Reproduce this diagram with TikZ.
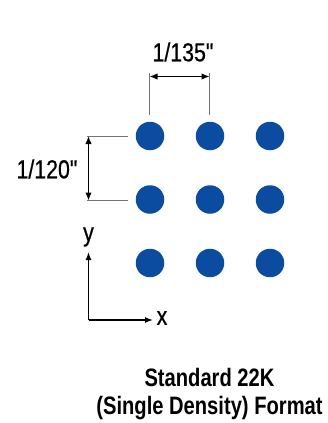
\documentclass[tikz,border=0pt]{standalone}
\usepackage{fontspec}
\setmainfont{Liberation Sans}
\newfontfamily\cond[FakeStretch=0.82,FakeBold=0.6]{Liberation Sans}
\newfontfamily\condb[FakeStretch=0.8]{Liberation Sans}
\usetikzlibrary{arrows.meta}
\definecolor{dotblue}{RGB}{12,76,160}
\begin{document}
\begin{tikzpicture}[x=1pt,y=-1pt,
  dot/.style={circle,fill=dotblue,minimum size=28.5pt,inner sep=0pt},
  ext/.style={draw=black!55,line width=0.8pt},
  dim/.style={draw=black,line width=1.4pt,{Latex[length=8pt,width=6.5pt]}-{Latex[length=8pt,width=6.5pt]}},
  ax/.style={draw=black,line width=1.4pt,-{Latex[length=8pt,width=6pt]}},
  lbl/.style={font=\cond\fontsize{26}{28}\selectfont,inner sep=0pt},
  ttl/.style={font=\condb\bfseries\fontsize{25.2}{28.5}\selectfont,inner sep=0pt,align=center}]
\useasboundingbox (0,0) rectangle (328,423);
% dots
\foreach \c/\x in {1/150,2/210,3/270}{
  \foreach \r/\y in {1/136,2/199.5,3/263}{
    \node[dot] (d\r\c) at (\x,\y) {};
  }
}
% horizontal dimension
\coordinate (h1t) at (149.5,76.5);
\coordinate (h1b) at (149.5,115);
\coordinate (h2t) at (209.5,76.5);
\coordinate (h2b) at (209.5,115);
\draw[ext] (149.5,73) -- (h1b);
\draw[ext] (209.5,73) -- (h2b);
\draw[dim] (h1t) -- (h2t);
\node[lbl] (hl) at (183,52) {1/135"};
% vertical dimension
\coordinate (v1l) at (87,136);
\coordinate (v1r) at (128,136);
\coordinate (v2l) at (87,200.5);
\coordinate (v2r) at (128,200.5);
\draw[ext] (v1l) -- (v1r);
\draw[ext] (v2l) -- (v2r);
\draw[dim] (88.5,136) -- (88.5,200.5);
\node[lbl] (vl) at (47,169) {1/120"};
% axes
\coordinate (o) at (88.5,320);
\coordinate (ytip) at (88.5,252);
\coordinate (xtip) at (153,320);
\draw[ax] (o) -- (ytip);
\draw[ax] (o) -- (xtip);
\node[lbl] (yl) at (88.5,237) {y};
\node[lbl] (xl) at (162,318) {x};
% title
\node[ttl] (t) at (209.5,394) {Standard 22K\\(Single Density) Format};
\end{tikzpicture}
\end{document}
